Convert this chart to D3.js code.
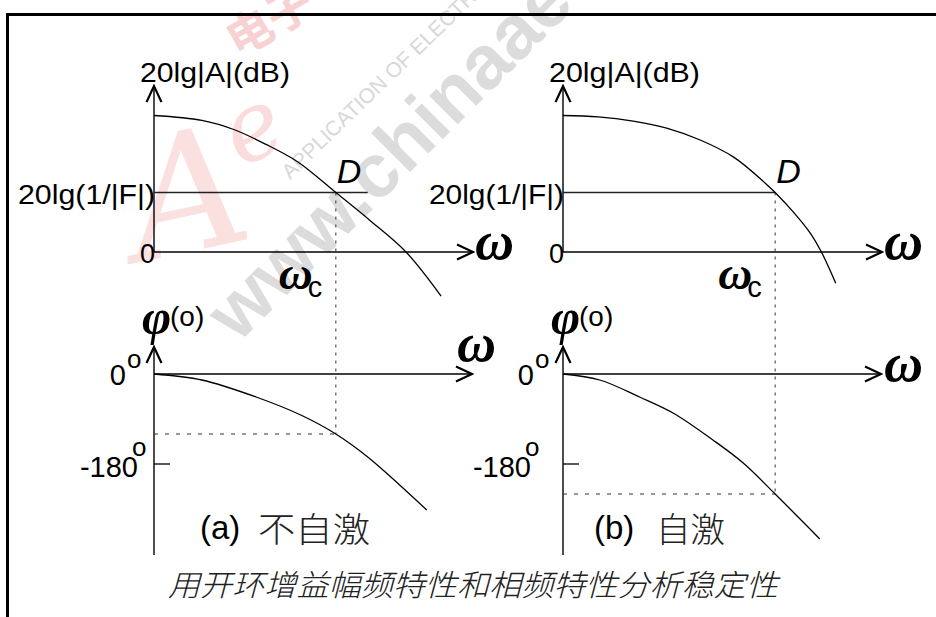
<!DOCTYPE html>
<html><head><meta charset="utf-8">
<script src="https://cdn.jsdelivr.net/npm/d3@7/dist/d3.min.js"></script>
<style>body{margin:0;background:#fff;} svg{display:block;}</style>
</head><body>
<svg id="c" width="936" height="617"></svg>
<script>
// ---------- data ----------
// panel (a) 不自激 : open-loop gain magnitude (dB) and phase (deg) vs ω (arbitrary units)
const magA_w   = [0, 1.5, 2.5, 3.5, 4.5, 5.7, 6.8, 7.9, 9.0];
const magA_db  = [39, 37.6, 35, 30.8, 25.8, 17, 8.8, 0, -12.6];
const phaseA_w   = [0, 1.5, 3.2, 4.6, 5.7, 6.7, 7.7, 8.55];
const phaseA_deg = [0, -12, -46, -82, -120, -166, -222, -272];
const wcA = 5.7, feedbackLineEndA = 6.7;
// panel (b) 自激
const magB_w   = [0, 1.1, 2.2, 3.25, 4.3, 5.35, 6.35, 6.65, 7.25, 7.75, 8.1, 8.55];
const magB_db  = [39, 38.6, 37.4, 35.4, 32, 27.1, 19.6, 17, 11.1, 5.4, 0, -8.9];
const phaseB_w   = [0, 1.15, 2.4, 3.45, 4.7, 5.65, 6.65, 7.4, 8.05];
const phaseB_deg = [0, -12, -46, -78, -132, -178, -240, -288, -330];
const wcB = 6.65, feedbackLineEndB = 6.65;
// shared levels
const feedbackDb = 17;          // 20lg(1/|F|)
const phaseTick = -180;
const phaseAtWc = { a: -120, b: -240 };
// axis extents (data units)
const wMax = 10, magTop = 47.4, phaseTop = 54, phaseBottom = -362;
// text
const magTitle = "20lg|A|(dB)";
const fbLabel = "20lg(1/|F|)";
const panelLabels = [["(a)", "不自激"], ["(b)", "自激"]];
const caption = "用开环增益幅频特性和相频特性分析稳定性";

// ---------- drawing ----------
const svg = d3.select("#c");
svg.append("rect").attr("width", 936).attr("height", 617).attr("fill", "#fff");

// watermark (faint)
const wm = svg.append("g");
wm.append("text").attr("transform", "translate(140,262) rotate(-12)")
  .attr("font-family", "DejaVu Serif").attr("font-style", "italic")
  .attr("font-size", 165).attr("fill", "#fbe0e0").text("A");
wm.append("text").attr("transform", "translate(240,168) rotate(-25)")
  .attr("font-family", "DejaVu Serif").attr("font-style", "italic")
  .attr("font-size", 95).attr("fill", "#fadcdc").text("e");
wm.append("text").attr("transform", "translate(238,58) rotate(-30)")
  .attr("font-family", "Noto Sans CJK SC").attr("font-weight", "bold")
  .attr("font-size", 46).attr("fill", "#f8d2d2").text("电子");
wm.append("text").attr("transform", "translate(290,180) rotate(-44)")
  .attr("font-family", "Liberation Sans").attr("font-size", 21)
  .attr("fill", "#d8d8d8").text("APPLICATION OF ELECTRONIC TECHNIQUE");
wm.append("text").attr("transform", "translate(238,344) rotate(-45)")
  .attr("font-family", "Liberation Sans").attr("font-weight", "bold")
  .attr("font-size", 76).attr("fill", "#dcdcdc").text("www.chinaaet.com");

// frame
svg.append("line").attr("x1", 6).attr("x2", 940).attr("y1", 14.5).attr("y2", 14.5)
  .attr("stroke", "#000").attr("stroke-width", 3);
svg.append("line").attr("x1", 7.5).attr("x2", 7.5).attr("y1", 13).attr("y2", 620)
  .attr("stroke", "#000").attr("stroke-width", 3);

svg.append("defs").append("marker").attr("id", "arr")
  .attr("viewBox", "-19 -10 21 20").attr("refX", 0).attr("refY", 0)
  .attr("markerWidth", 21).attr("markerHeight", 20)
  .attr("markerUnits", "userSpaceOnUse").attr("orient", "auto")
  .append("path").attr("d", "M-16,-7.5L0,0L-16,7.5")
  .attr("fill", "none").attr("stroke", "#000").attr("stroke-width", 2.2);

const SANS = "Liberation Sans, Arial, sans-serif";
const SERIF = "Liberation Serif, Times New Roman, serif";

const panels = [
  { key: "a", left: 154, magW: magA_w, magDb: magA_db, phW: phaseA_w, phDeg: phaseA_deg, wc: wcA, fbEnd: feedbackLineEndA,
    labels: panelLabels[0], titleLen: 150, fbLen: 137, phaseOmegaAbove: true,
    m180end: 138, zeroEnd: 126, lab1x: 200, lab2x: 258, lab2len: 112 },
  { key: "b", left: 563, magW: magB_w, magDb: magB_db, phW: phaseB_w, phDeg: phaseB_deg, wc: wcB, fbEnd: feedbackLineEndB,
    labels: panelLabels[1], titleLen: 151, fbLen: 135, phaseOmegaAbove: false,
    m180end: 531, zeroEnd: 534, lab1x: 594, lab2x: 656, lab2len: 69 }
];

panels.forEach(p => {
  const g = svg.append("g");
  const x = d3.scaleLinear().domain([0, wMax]).range([p.left, p.left + 319]);
  const yM = d3.scaleLinear().domain([0, 40]).range([252, 112]);
  const yP = d3.scaleLinear().domain([0, -180]).range([374, 464]);

  const seg = (x1, y1, x2, y2) => g.append("line").attr("x1", x1).attr("y1", y1).attr("x2", x2).attr("y2", y2);

  // magnitude axes
  seg(x(0), yM(0), x(0), yM(magTop)).attr("stroke", "#000").attr("stroke-width", 1.4).attr("marker-end", "url(#arr)");
  seg(x(0), yM(0), x(wMax), yM(0)).attr("stroke", "#000").attr("stroke-width", 1.4).attr("marker-end", "url(#arr)");
  // phase axes
  seg(x(0), yP(phaseBottom), x(0), yP(phaseTop)).attr("stroke", "#000").attr("stroke-width", 1.4).attr("marker-end", "url(#arr)");
  seg(x(0), yP(0), x(wMax) - 1, yP(0)).attr("stroke", "#000").attr("stroke-width", 1.4).attr("marker-end", "url(#arr)");
  seg(x(0), yP(phaseTick), x(0) + 16, yP(phaseTick)).attr("stroke", "#000").attr("stroke-width", 1.3);

  // feedback line
  seg(x(0), yM(feedbackDb), x(p.fbEnd), yM(feedbackDb)).attr("stroke", "#222").attr("stroke-width", 1.4);

  // dotted guides
  const pc = phaseAtWc[p.key];
  seg(x(p.wc), yM(feedbackDb), x(p.wc), yP(pc)).attr("stroke", "#333").attr("stroke-width", 1).attr("stroke-dasharray", "3,5");
  seg(x(0), yP(pc), x(p.wc), yP(pc)).attr("stroke", "#333").attr("stroke-width", 1).attr("stroke-dasharray", "4,7");

  // curves
  const lineM = d3.line().x((d, i) => x(p.magW[i])).y(d => yM(d)).curve(d3.curveCatmullRom.alpha(0.5));
  g.append("path").attr("d", lineM(p.magDb)).attr("fill", "none").attr("stroke", "#000").attr("stroke-width", 1.3);
  const lineP = d3.line().x((d, i) => x(p.phW[i])).y(d => yP(d)).curve(d3.curveCatmullRom.alpha(0.5));
  g.append("path").attr("d", lineP(p.phDeg)).attr("fill", "none").attr("stroke", "#000").attr("stroke-width", 1.3);

  const txt = (s, tx, ty, size, fam) => g.append("text").attr("x", tx).attr("y", ty)
    .attr("font-size", size).attr("font-family", fam || SANS).attr("fill", "#000").text(s);

  // magnitude texts
  txt(magTitle, x(0) - 14, 82, 28).attr("textLength", p.titleLen).attr("lengthAdjust", "spacingAndGlyphs");
  txt(fbLabel, x(0) + 1, 204, 28).attr("text-anchor", "end").attr("textLength", p.fbLen).attr("lengthAdjust", "spacingAndGlyphs");
  txt("0", x(0) + 1, 263, 27).attr("text-anchor", "end");
  txt("D", x(p.wc) + 1, 183, 34).attr("font-style", "italic");
  txt("ω", x(p.wc) - 57, 289, 47, SERIF).attr("font-style", "italic").attr("font-weight", "bold");
  txt("c", x(p.wc) - 28, 297, 29);
  txt("ω", x(wMax) + 2, 259, 54, SERIF).attr("font-style", "italic").attr("font-weight", "bold");

  // phase texts
  txt("φ", x(0) - 12, 334, 50, SERIF).attr("font-style", "italic").attr("font-weight", "bold");
  txt("(o)", x(0) + 16, 326, 28);
  txt("0", p.zeroEnd, 385, 29).attr("text-anchor", "end");
  txt("o", p.zeroEnd + 1, 368, 26);
  txt("-180", p.m180end, 477, 29).attr("text-anchor", "end");
  txt("o", p.m180end - 6, 456, 26);
  if (p.phaseOmegaAbove) {
    txt("ω", x(wMax) - 16, 361, 54, SERIF).attr("font-style", "italic").attr("font-weight", "bold");
  } else {
    txt("ω", x(wMax) + 2, 381, 54, SERIF).attr("font-style", "italic").attr("font-weight", "bold");
  }

  // panel label
  txt(p.labels[0], p.lab1x, 539, 33);
  txt(p.labels[1], p.lab2x, 542, 34, "Noto Sans CJK SC").attr("font-weight", 300)
    .attr("textLength", p.lab2len).attr("lengthAdjust", "spacingAndGlyphs").attr("fill", "#222");
});

// caption
svg.append("text").attr("x", 168).attr("y", 596)
  .attr("font-family", "Noto Sans CJK SC").attr("font-weight", 300).attr("font-style", "italic")
  .attr("font-size", 30).attr("fill", "#222")
  .attr("textLength", 610).attr("lengthAdjust", "spacingAndGlyphs").text(caption);
</script>
</body></html>
